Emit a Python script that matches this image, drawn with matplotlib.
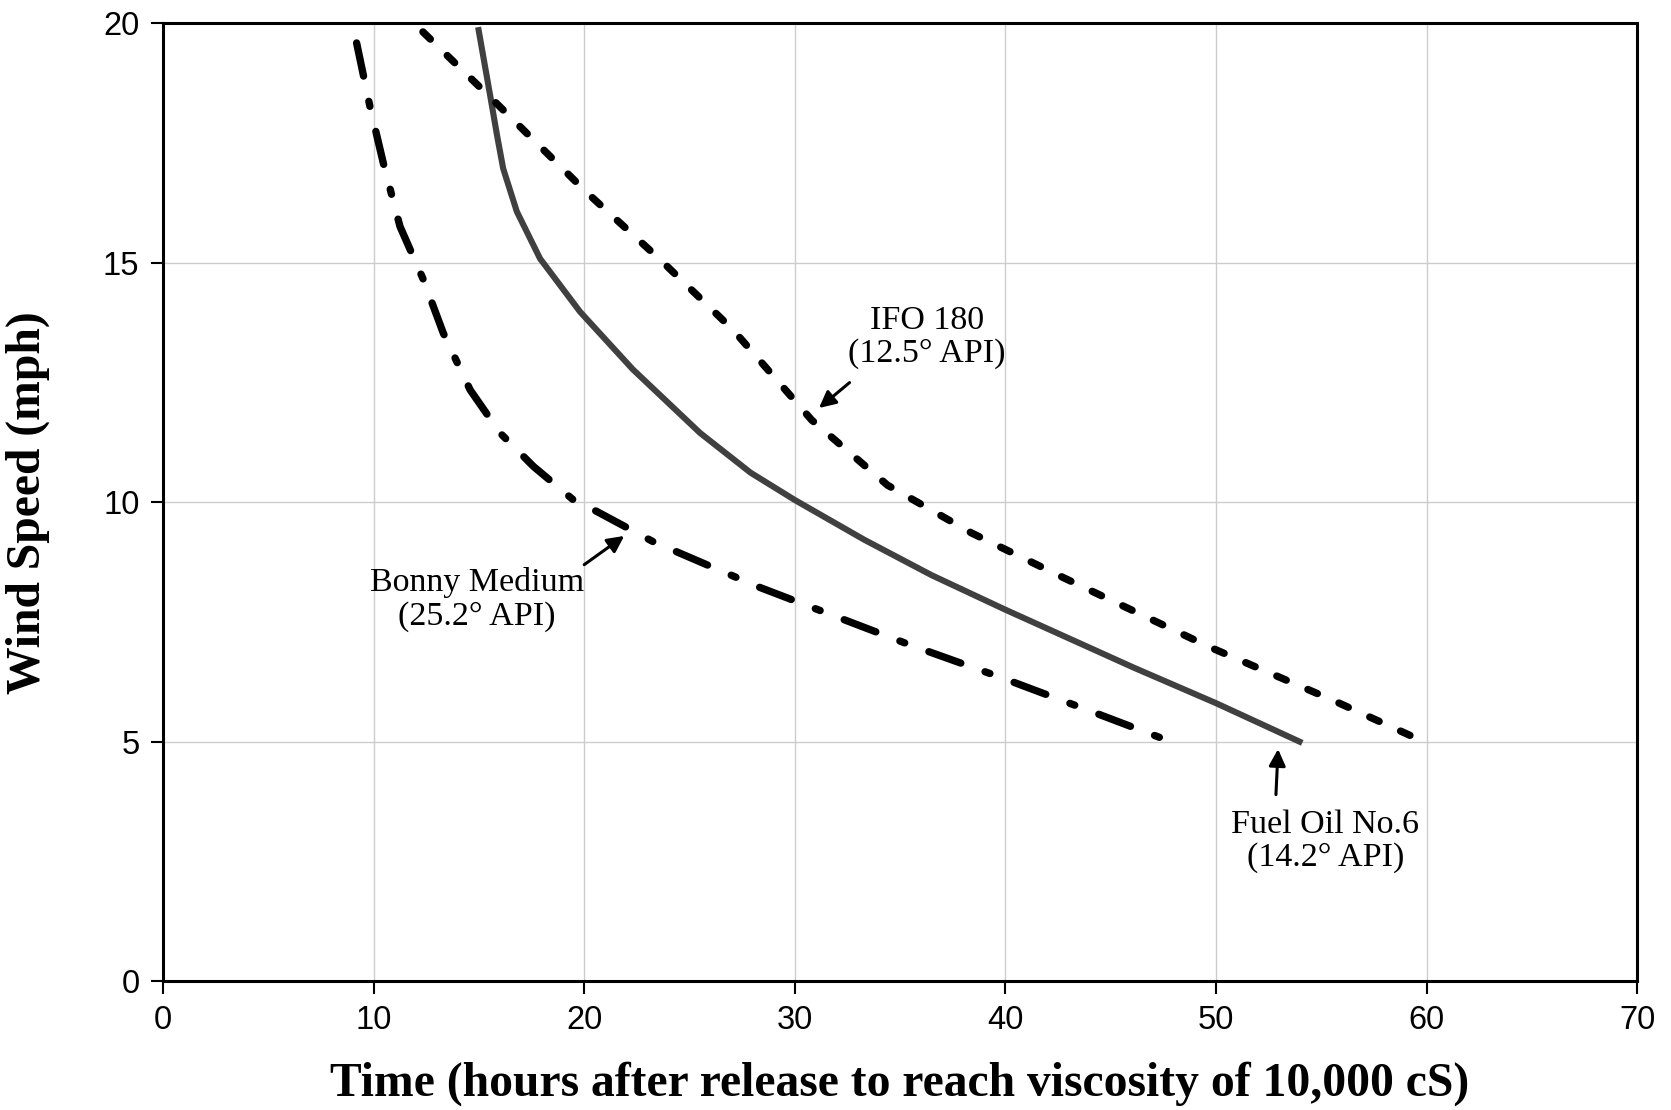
import matplotlib
matplotlib.use("Agg")
import matplotlib.pyplot as plt

# Fuel Oil No.6 (14.2° API)
fuel_x = [14.96, 15.53, 15.86, 16.15, 16.8, 17.9, 19.8, 22.3, 25.5, 27.9, 30.0, 33.3, 36.5, 40.0, 46.1, 50.0, 54.1]
fuel_y = [19.92, 18.5, 17.66, 16.97, 16.07, 15.09, 13.98, 12.78, 11.45, 10.62, 10.05, 9.22, 8.48, 7.76, 6.55, 5.81, 4.98]

# IFO 180 (12.5° API)
ifo_x = [12.34, 15.67, 20.14, 23.6, 27.07, 30.8, 34.4, 38.4, 42.8, 49.7, 55.5, 60.0]
ifo_y = [19.82, 18.4, 16.46, 15.07, 13.6, 11.72, 10.36, 9.36, 8.42, 6.98, 5.88, 4.98]

# Bonny Medium (25.2° API)
bonny_x = [9.19, 9.82, 10.46, 11.25, 12.36, 13.31, 14.58, 16.0, 17.59, 19.49, 20.6, 23.27, 28.25, 31.34, 35.5, 39.7, 43.7, 48.07]
bonny_y = [19.59, 18.27, 17.08, 15.76, 14.65, 13.53, 12.35, 11.45, 10.75, 10.05, 9.81, 9.18, 8.24, 7.72, 7.02, 6.36, 5.70, 4.97]

x_ticks = [0, 10, 20, 30, 40, 50, 60, 70]
y_ticks = [0, 5, 10, 15, 20]

fig = plt.figure(figsize=(16.71, 11.10), dpi=100)
ax = fig.add_axes([0.0976, 0.1158, 0.9797 - 0.0976, 0.979 - 0.1158])

ax.plot(fuel_x, fuel_y, color="#404040", lw=4.4, solid_capstyle="butt",
        solid_joinstyle="round", zorder=3)
ax.plot(ifo_x, ifo_y, color="black", lw=5.3, dash_capstyle="round",
        dashes=(1.4, 3.2), zorder=3)
ax.plot(bonny_x, bonny_y, color="black", lw=5.3, dash_capstyle="round",
        dashes=(4.6, 3.5, 0.7, 3.5), zorder=3)

ax.set_xlim(0, 70)
ax.set_ylim(0, 20)
ax.set_xticks(x_ticks)
ax.set_yticks(y_ticks)
ax.grid(True, color="#cccccc", lw=1.0)
ax.set_axisbelow(True)
for s in ax.spines.values():
    s.set_linewidth(2.2)
    s.set_color("black")
ax.tick_params(direction="out", length=9, width=1.5, labelsize=23.5, pad=8)
for lab in ax.get_xticklabels() + ax.get_yticklabels():
    lab.set_fontfamily("Liberation Sans")

ax.set_xlabel("Time (hours after release to reach viscosity of 10,000 cS)",
              fontfamily="Liberation Serif", fontweight="bold", fontsize=34.3, labelpad=18)
ax.set_ylabel("Wind Speed (mph)",
              fontfamily="Liberation Serif", fontweight="bold", fontsize=34.3)
ax.yaxis.set_label_coords(-0.077, 0.5)

ann_kw = dict(fontfamily="Liberation Serif", fontsize=24.5, ha="center", va="center",
              linespacing=1.12)
arrow = dict(arrowstyle="-|>,head_length=1.0,head_width=0.5", color="black", lw=2.2,
             shrinkA=0, shrinkB=0)

ax.annotate("", xy=(31.15, 11.97), xytext=(32.6, 12.5), arrowprops=arrow)
ax.text(36.27, 13.45, "IFO 180\n(12.5° API)", **ann_kw)

ax.annotate("", xy=(21.9, 9.3), xytext=(20.0, 8.7), arrowprops=arrow)
ax.text(14.9, 7.97, "Bonny Medium\n(25.2° API)", **ann_kw)

ax.annotate("", xy=(52.95, 4.85), xytext=(52.85, 3.9), arrowprops=arrow)
ax.text(55.2, 2.93, "Fuel Oil No.6\n(14.2° API)", **ann_kw)

fig.savefig("out.png", dpi=100)
